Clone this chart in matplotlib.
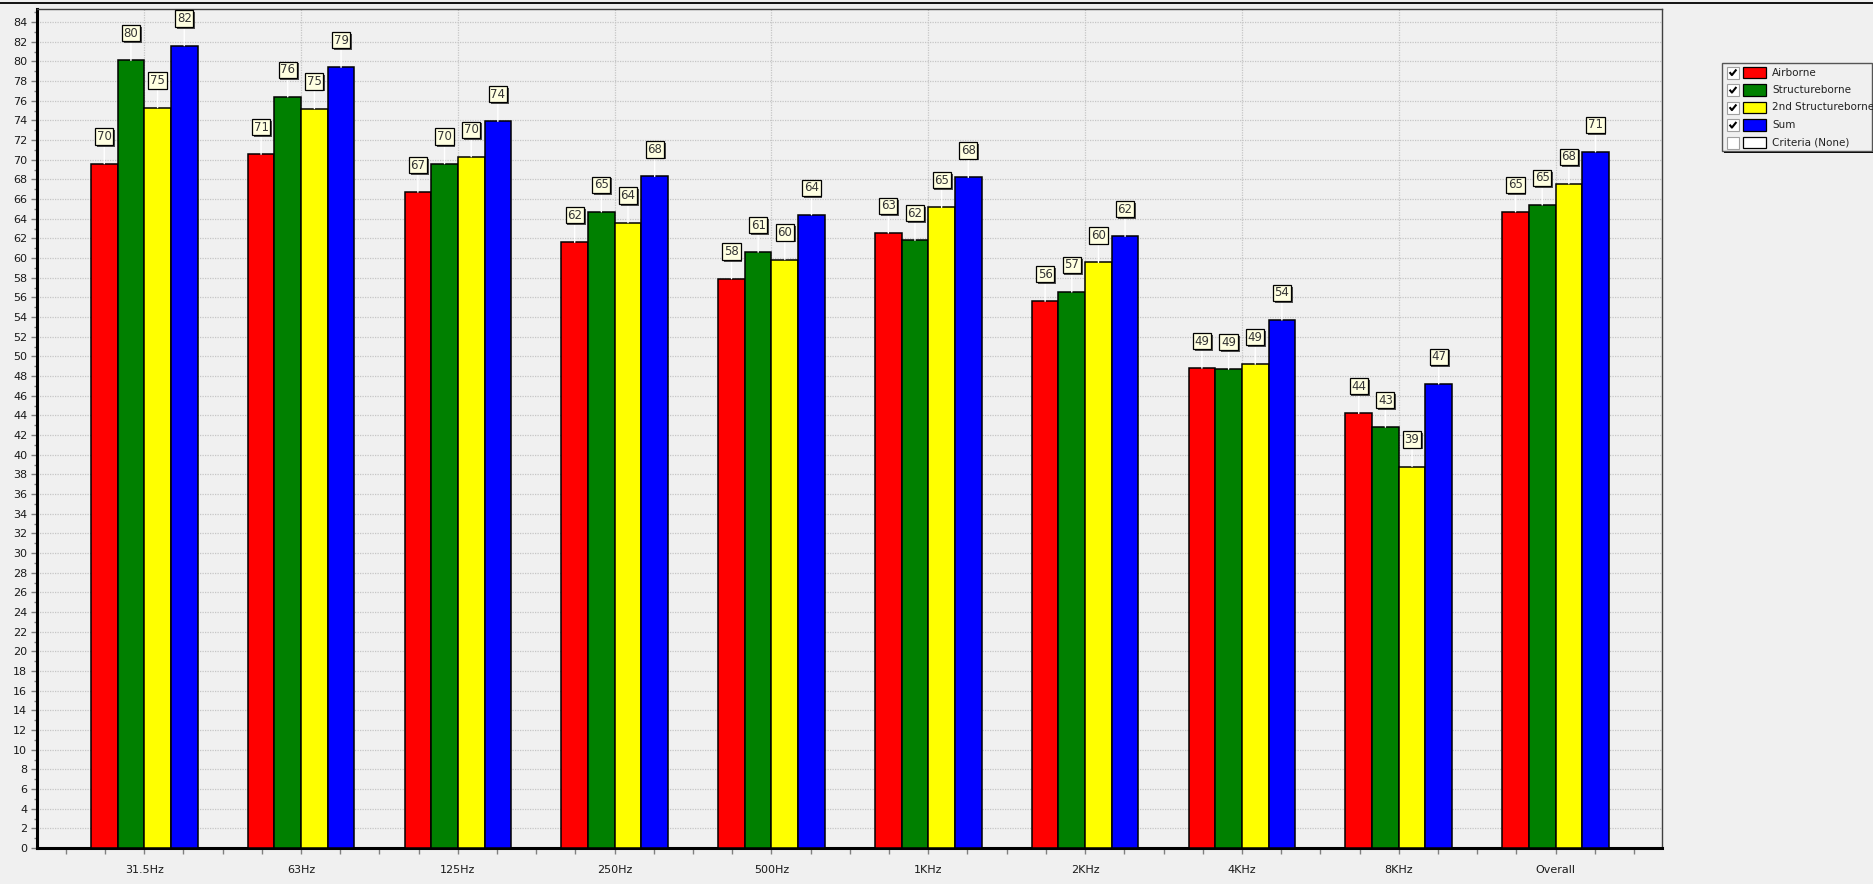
import matplotlib
matplotlib.use("Agg")
import matplotlib.pyplot as plt
import matplotlib.patheffects as pe
from matplotlib.patches import Rectangle
from matplotlib.lines import Line2D
from matplotlib.ticker import MultipleLocator
import numpy as np

bands = ["31.5Hz", "63Hz", "125Hz", "250Hz", "500Hz", "1KHz", "2KHz", "4KHz", "8KHz", "Overall"]

airborne = [69.6, 70.55, 66.7, 61.6, 57.9, 62.55, 55.6, 48.8, 44.2, 64.7]
structureborne = [80.1, 76.4, 69.6, 64.7, 60.6, 61.8, 56.55, 48.7, 42.8, 65.4]
structureborne_2nd = [75.3, 75.2, 70.3, 63.6, 59.85, 65.15, 59.55, 49.2, 38.8, 67.55]
total = [81.6, 79.4, 73.9, 68.3, 64.4, 68.2, 62.2, 53.7, 47.2, 70.8]

series = [
    ("Airborne", airborne, "#ff0000"),
    ("Structureborne", structureborne, "#008000"),
    ("2nd Structureborne", structureborne_2nd, "#ffff00"),
    ("Sum", total, "#0000ff"),
]

W, H = 1874, 884
bg = "#f0f0f0"
plt.rcParams["font.family"] = "DejaVu Sans"

fig = plt.figure(figsize=(W / 100, H / 100), dpi=100, facecolor=bg)

# plot area in pixels: x 37..1662, y 9..848 (top-down)
ax = fig.add_axes([37 / W, (H - 848) / H, (1662 - 37) / W, (848 - 9.3) / H])
ax.set_facecolor(bg)

x = np.arange(len(bands))
bw = 0.17
offsets = (np.arange(4) - 1.5) * bw

for (name, vals, col), off in zip(series, offsets):
    ax.bar(x + off, vals, width=bw, color=col, edgecolor="black", linewidth=1.1, zorder=3)
    for xi, v in zip(x + off, vals):
        t = ax.annotate(
            f"{round(v):d}", xy=(xi, v), xytext=(0, 19.5), textcoords="offset points",
            ha="center", va="center", fontsize=8.5, color="#333333", zorder=5,
            bbox=dict(boxstyle="square,pad=0.14", fc="#ffffe1", ec="black", lw=0.9),
            arrowprops=dict(arrowstyle="-", color="white", lw=1.0, shrinkA=0, shrinkB=0),
        )
        t.get_bbox_patch().set_path_effects([
            pe.SimplePatchShadow(offset=(1.3, -1.3), shadow_rgbFace="#505050", alpha=1.0),
            pe.Normal(),
        ])

ax.set_xlim(-0.684, 9.679)
ax.set_ylim(0, 85.3)
ax.set_xticks(x)
ax.set_xticklabels(bands)
ax.xaxis.set_minor_locator(MultipleLocator(0.25))
ax.yaxis.set_major_locator(MultipleLocator(2))
ax.yaxis.set_minor_locator(MultipleLocator(1))

ax.tick_params(axis="both", which="major", length=4, width=1, color="#808080",
               labelsize=8, labelcolor="#1a1a1a")
ax.tick_params(axis="x", which="minor", length=4, width=1, color="#808080")
ax.tick_params(axis="y", which="minor", length=2, width=1, color="#808080")
ax.tick_params(axis="x", which="major", pad=8)
ax.tick_params(axis="y", which="major", pad=3)

ax.grid(axis="y", which="major", color="#c6c6c6", linestyle=(0, (1, 1)), linewidth=0.9, zorder=0)
ax.grid(axis="x", which="major", color="#c6c6c6", linestyle=(0, (1, 1)), linewidth=0.9, zorder=0)
ax.set_axisbelow(True)

for s in ("left", "bottom"):
    ax.spines[s].set_linewidth(2.2)
    ax.spines[s].set_color("black")
for s in ("top", "right"):
    ax.spines[s].set_linewidth(1.0)
    ax.spines[s].set_color("#404040")

# window border line along the top
fig.add_artist(Line2D([0, 1], [1 - 3.3 / H, 1 - 3.3 / H], transform=fig.transFigure,
                      color="black", lw=1.3))

# legend with check boxes, drawn in pixel units
lx0, ly0, lw_, lh_ = 1722, 63, 150, 88
lax = fig.add_axes([lx0 / W, (H - ly0 - lh_) / H, lw_ / W, lh_ / H])
lax.set_xlim(0, lw_)
lax.set_ylim(lh_, 0)
lax.axis("off")
lax.add_patch(Rectangle((2.2, 2.2), lw_, lh_, fc="black", ec="none", clip_on=False, zorder=1))
lax.add_patch(Rectangle((0, 0), lw_, lh_, fc=bg, ec="#555555", lw=1.0, clip_on=False, zorder=2))

legend_items = [(n, c, True) for n, _, c in series] + [("Criteria (None)", "white", False)]
for i, (name, col, checked) in enumerate(legend_items):
    cy = 9.5 + i * 17.5
    lax.add_patch(Rectangle((4.7, cy - 6), 12.3, 12, fc="white", ec="#a0a0a0", lw=0.8, zorder=3))
    if checked:
        lax.plot([7.6, 9.9, 14.4], [cy - 0.3, cy + 2.6, cy - 3.0], color="black",
                 lw=1.5, solid_capstyle="butt", zorder=4)
    lax.add_patch(Rectangle((21.3, cy - 5.8), 22.4, 11.6, fc=col, ec="black", lw=0.9, zorder=3))
    lax.text(50.3, cy, name, ha="left", va="center", fontsize=7.5, color="#222222", zorder=4)

fig.savefig("out.png", dpi=100, facecolor=bg)
